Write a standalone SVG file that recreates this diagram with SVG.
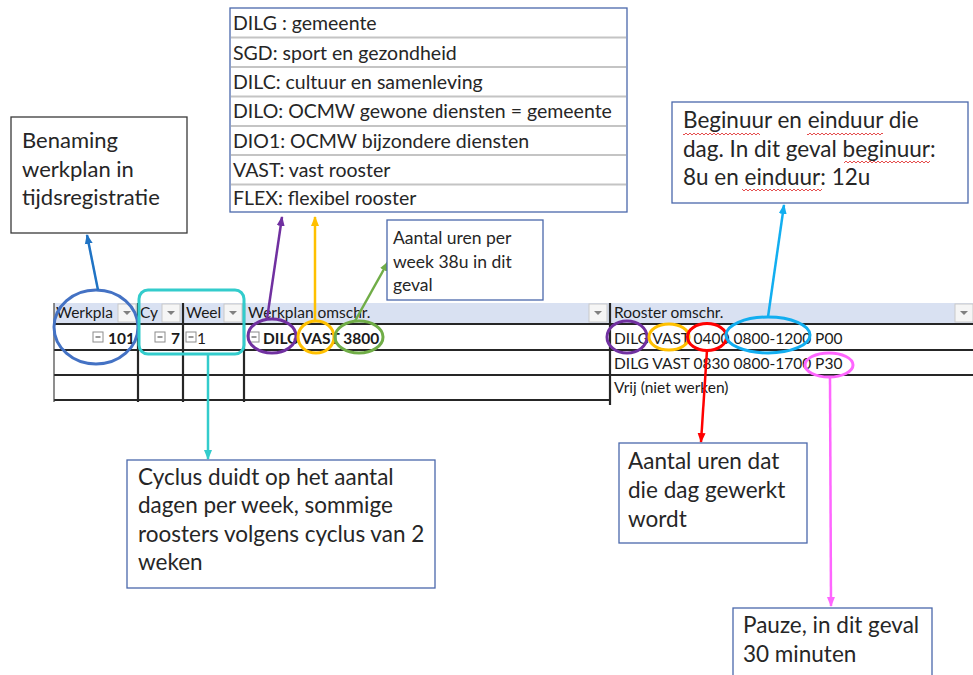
<svg xmlns="http://www.w3.org/2000/svg" width="973" height="675" viewBox="0 0 973 675">
<style>
  .t { font-family: "Lato", "Liberation Sans", sans-serif; fill: #262626; }
  .box { fill: #ffffff; stroke: #4a68ab; stroke-width: 1.3; }
  .tbl { font-family: "Lato", "Liberation Sans", sans-serif; fill: #1a1a1a; font-size: 15.5px; }
  .grid { stroke: #262626; stroke-width: 2.2; }
  .sep { stroke: #c4c4c4; stroke-width: 2; }
  .btn { fill: #f5f5f5; stroke: #c9c9c9; stroke-width: 1; }
  .hl { fill: none; stroke-width: 3; }
  .ar { fill: none; stroke-width: 2.5; }
</style>
<defs>
  <marker id="mBlue" viewBox="0 0 10 10" refX="9" refY="5" markerWidth="10" markerHeight="10" markerUnits="userSpaceOnUse" orient="auto"><path d="M0,1 L10,5 L0,9 z" fill="#1f73c4"/></marker>
  <marker id="mPurple" viewBox="0 0 10 10" refX="9" refY="5" markerWidth="10" markerHeight="10" markerUnits="userSpaceOnUse" orient="auto"><path d="M0,1 L10,5 L0,9 z" fill="#7030a0"/></marker>
  <marker id="mYellow" viewBox="0 0 10 10" refX="9" refY="5" markerWidth="10" markerHeight="10" markerUnits="userSpaceOnUse" orient="auto"><path d="M0,1 L10,5 L0,9 z" fill="#ffc000"/></marker>
  <marker id="mGreen" viewBox="0 0 10 10" refX="9" refY="5" markerWidth="10" markerHeight="10" markerUnits="userSpaceOnUse" orient="auto"><path d="M0,1 L10,5 L0,9 z" fill="#70ad47"/></marker>
  <marker id="mCyan" viewBox="0 0 10 10" refX="9" refY="5" markerWidth="10" markerHeight="10" markerUnits="userSpaceOnUse" orient="auto"><path d="M0,1 L10,5 L0,9 z" fill="#33cccc"/></marker>
  <marker id="mSky" viewBox="0 0 10 10" refX="9" refY="5" markerWidth="10" markerHeight="10" markerUnits="userSpaceOnUse" orient="auto"><path d="M0,1 L10,5 L0,9 z" fill="#12aef0"/></marker>
  <marker id="mRed" viewBox="0 0 10 10" refX="9" refY="5" markerWidth="10" markerHeight="10" markerUnits="userSpaceOnUse" orient="auto"><path d="M0,1 L10,5 L0,9 z" fill="#ff0000"/></marker>
  <marker id="mPink" viewBox="0 0 10 10" refX="9" refY="5" markerWidth="10" markerHeight="10" markerUnits="userSpaceOnUse" orient="auto"><path d="M0,1 L10,5 L0,9 z" fill="#ff66ff"/></marker>
  <pattern id="squig" width="4" height="4" patternUnits="userSpaceOnUse"><path d="M0,3 L2,1 L4,3" fill="none" stroke="#e23a3a" stroke-width="0.9"/></pattern>
  <g id="minus"><rect x="0" y="0" width="10" height="10" fill="#ffffff" stroke="#8c8c8c" stroke-width="1"/><line x1="2.5" y1="5" x2="7.5" y2="5" stroke="#555555" stroke-width="1.2"/></g>
  <g id="dd"><rect x="0" y="0" width="18" height="18" class="btn"/><path d="M5,7 L13,7 L9,11 z" fill="#808080"/></g>
</defs>

<rect width="973" height="675" fill="#ffffff"/>

<!-- Table -->
<g id="table">
  <rect x="54" y="303" width="919" height="21" fill="#d9e1f2"/>
  <use href="#dd" x="118" y="304"/>
  <use href="#dd" x="162" y="304"/>
  <use href="#dd" x="224" y="304"/>
  <use href="#dd" x="589" y="304"/>
  <use href="#dd" x="955" y="304"/>
  <text class="tbl" x="56" y="318" font-size="17">Werkpla</text>
  <text class="tbl" x="140" y="318" font-size="17">Cy</text>
  <text class="tbl" x="186" y="318" font-size="17">Weel</text>
  <text class="tbl" x="248" y="318" font-size="17">Werkplan omschr.</text>
  <text class="tbl" x="614" y="318" font-size="17">Rooster omschr.</text>
  <line class="grid" x1="54" y1="324" x2="973" y2="324"/>
  <line class="grid" x1="54" y1="350" x2="973" y2="350"/>
  <line class="grid" x1="54" y1="375" x2="973" y2="375"/>
  <line class="grid" x1="54" y1="400" x2="611" y2="400"/>
  <line x1="54" y1="303" x2="54" y2="402" stroke="#444" stroke-width="1.2"/>
  <line class="grid" x1="138" y1="303" x2="138" y2="402"/>
  <line class="grid" x1="183" y1="303" x2="183" y2="402"/>
  <line class="grid" x1="244" y1="303" x2="244" y2="402"/>
  <line class="grid" x1="610" y1="303" x2="610" y2="405"/>
  <use href="#minus" x="93" y="332"/>
  <text class="tbl" x="135" y="344" font-size="17" font-weight="bold" text-anchor="end">101</text>
  <use href="#minus" x="155" y="332"/>
  <text class="tbl" x="180" y="344" font-size="17" font-weight="bold" text-anchor="end">7</text>
  <use href="#minus" x="186" y="332"/>
  <text class="tbl" x="197" y="344" font-size="17">1</text>
  <use href="#minus" x="249" y="332"/>
  <text class="tbl" x="263" y="344" font-size="16" font-weight="bold">DILG VAST 3800</text>
  <text class="tbl" x="614" y="344">DILG VAST 0400 0800-1200 P00</text>
  <text class="tbl" x="614" y="369">DILG VAST 0830 0800-1700 P30</text>
  <text class="tbl" x="614" y="393">Vrij (niet werken)</text>
</g>

<!-- Highlights -->
<g id="highlights">
  <ellipse class="hl" cx="96" cy="327" rx="42" ry="37" stroke="#4472c4"/>
  <rect class="hl" x="139" y="290" width="105" height="64" rx="9" stroke="#33cccc"/>
  <ellipse class="hl" cx="272" cy="336" rx="24" ry="17" stroke="#7030a0"/>
  <ellipse class="hl" cx="316" cy="337" rx="18" ry="16" stroke="#ffc000"/>
  <ellipse class="hl" cx="359" cy="337" rx="24" ry="16" stroke="#70ad47"/>
  <ellipse class="hl" cx="627" cy="337" rx="20" ry="16" stroke="#7030a0"/>
  <ellipse class="hl" cx="669" cy="337" rx="20" ry="13" stroke="#ffc000"/>
  <ellipse class="hl" cx="707" cy="337" rx="19.5" ry="13.5" stroke="#ff0000"/>
  <ellipse class="hl" cx="768" cy="335" rx="42" ry="18" stroke="#12aef0"/>
  <ellipse class="hl" cx="829" cy="365" rx="24" ry="12" stroke="#ff66ff"/>
</g>

<!-- Connectors -->
<g id="connectors">
  <line class="ar" x1="98" y1="290" x2="87" y2="235" stroke="#1f73c4" marker-end="url(#mBlue)"/>
  <line class="ar" x1="267" y1="319" x2="282" y2="217" stroke="#7030a0" marker-end="url(#mPurple)"/>
  <line class="ar" x1="315" y1="321" x2="315" y2="217" stroke="#ffc000" marker-end="url(#mYellow)"/>
  <line class="ar" x1="355" y1="321" x2="388" y2="262" stroke="#70ad47" marker-end="url(#mGreen)"/>
  <line class="ar" x1="208" y1="354" x2="208" y2="459" stroke="#33cccc" marker-end="url(#mCyan)"/>
  <line class="ar" x1="768" y1="317" x2="784" y2="205" stroke="#12aef0" marker-end="url(#mSky)"/>
  <line class="ar" x1="707" y1="350" x2="701" y2="442" stroke="#ff0000" marker-end="url(#mRed)"/>
  <line class="ar" x1="830" y1="377" x2="831" y2="606" stroke="#ff66ff" marker-end="url(#mPink)"/>
</g>

<!-- Boxes -->
<g id="box-benaming">
  <rect x="11" y="117" width="176" height="116" fill="#ffffff" stroke="#3a3a3a" stroke-width="1.3"/>
  <text class="t" font-size="22"><tspan x="22" y="148">Benaming</tspan><tspan x="22" y="177">werkplan in</tspan><tspan x="22" y="205">tijdsregistratie</tspan></text>
</g>

<g id="box-codes">
  <rect class="box" x="230" y="8" width="397" height="204"/>
  <line class="sep" x1="231" y1="37.5" x2="626" y2="37.5"/>
  <line class="sep" x1="231" y1="67" x2="626" y2="67"/>
  <line class="sep" x1="231" y1="96.5" x2="626" y2="96.5"/>
  <line class="sep" x1="231" y1="126" x2="626" y2="126"/>
  <line class="sep" x1="231" y1="155" x2="626" y2="155"/>
  <line class="sep" x1="231" y1="184.5" x2="626" y2="184.5"/>
  <text class="t" font-size="19.5">
    <tspan x="233" y="30">DILG : gemeente</tspan>
    <tspan x="233" y="60">SGD: sport en gezondheid</tspan>
    <tspan x="233" y="89">DILC: cultuur en samenleving</tspan>
    <tspan x="233" y="118">DILO: OCMW gewone diensten = gemeente</tspan>
    <tspan x="233" y="148">DIO1: OCMW bijzondere diensten</tspan>
    <tspan x="233" y="177">VAST: vast rooster</tspan>
    <tspan x="233" y="205">FLEX: flexibel rooster</tspan>
  </text>
</g>

<g id="box-uren-week">
  <rect class="box" x="387" y="220" width="156" height="80"/>
  <text class="t" font-size="17.5"><tspan x="393" y="244">Aantal uren per</tspan><tspan x="393" y="268">week 38u in dit</tspan><tspan x="393" y="291">geval</tspan></text>
</g>

<g id="box-begin-eind">
  <rect class="box" x="672" y="102" width="296" height="101"/>
  <rect x="683" y="132" width="77" height="4" fill="url(#squig)"/>
  <rect x="807" y="132" width="76" height="4" fill="url(#squig)"/>
  <rect x="844" y="160" width="86" height="4" fill="url(#squig)"/>
  <rect x="742" y="188" width="80" height="4" fill="url(#squig)"/>
  <text class="t" font-size="22.5"><tspan x="683" y="128">Beginuur en einduur die</tspan><tspan x="683" y="157">dag. In dit geval beginuur:</tspan><tspan x="683" y="185">8u en einduur: 12u</tspan></text>
</g>

<g id="box-cyclus">
  <rect class="box" x="127" y="460" width="308" height="128"/>
  <text class="t" font-size="22.5"><tspan x="138" y="485">Cyclus duidt op het aantal</tspan><tspan x="138" y="513">dagen per week, sommige</tspan><tspan x="138" y="542">roosters volgens cyclus van 2</tspan><tspan x="138" y="570">weken</tspan></text>
</g>

<g id="box-uren-dag">
  <rect class="box" x="619" y="443" width="188" height="100"/>
  <text class="t" font-size="22.5"><tspan x="628" y="469">Aantal uren dat</tspan><tspan x="628" y="498">die dag gewerkt</tspan><tspan x="628" y="527">wordt</tspan></text>
</g>

<g id="box-pauze">
  <rect class="box" x="733" y="608" width="199" height="80"/>
  <text class="t" font-size="22.5"><tspan x="743" y="633">Pauze, in dit geval</tspan><tspan x="743" y="662">30 minuten</tspan></text>
</g>
</svg>
